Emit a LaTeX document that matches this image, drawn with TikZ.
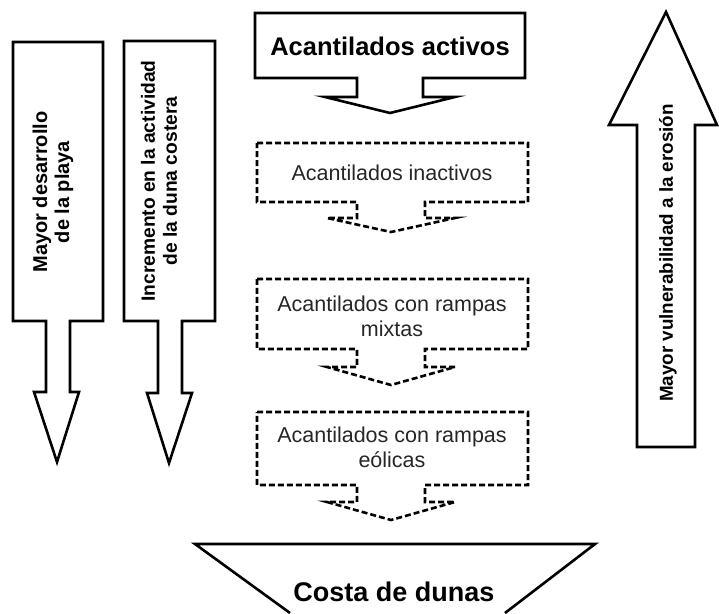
\documentclass[tikz,border=0pt]{standalone}
\usepackage{fontspec}
\setmainfont{Liberation Sans}

\tikzset{
	outline/.style={draw, line width=2.6pt, line join=miter},
	dashline/.style={draw, line width=2.6pt, dash pattern=on 6pt off 3pt},
	lbl/.style={align=center, inner sep=0pt, text=black!85, font=\fontsize{21.5}{25}\selectfont},
	blbl/.style={align=center, inner sep=0pt, font=\fontsize{20}{22}\selectfont\bfseries},
}

\begin{document}
\begin{tikzpicture}[x=1pt,y=-1pt]
	\useasboundingbox (0,0) rectangle (719,613);
	
	% cliff states
	\draw[outline] (255,13) -- (525,13) -- (525,78) -- (423,78) -- (423,97) -- (455,97) -- (390,113) -- (325,97) -- (357,97) -- (357,78) -- (255,78) -- cycle;
	\node[blbl, font=\fontsize{25.5}{28}\selectfont\bfseries] (activos) at (390,46) {Acantilados activos};
	
	\draw[dashline] (257,143) -- (528,143) -- (528,202) -- (425,202) -- (425,218) -- (455,218) -- (391,232) -- (327,218) -- (357,218) -- (357,202) -- (257,202) -- cycle;
	\node[lbl] (inactivos) at (392,173) {Acantilados inactivos};
	
	\draw[dashline] (257,279) -- (528,279) -- (528,349) -- (425,349) -- (425,367) -- (455,367) -- (391,385) -- (327,367) -- (357,367) -- (357,349) -- (257,349) -- cycle;
	\node[lbl] (mixtas) at (392,316) {Acantilados con rampas\\mixtas};
	
	\draw[dashline] (257,412) -- (528,412) -- (528,485) -- (425,485) -- (425,502) -- (455,502) -- (391,520) -- (327,502) -- (357,502) -- (357,485) -- (257,485) -- cycle;
	\node[lbl] (eolicas) at (392,447) {Acantilados con rampas\\eólicas};
	
	% dunes
	\draw[outline] (290,613) -- (195,544) -- (595,544) -- (505,613);
	\node[blbl, font=\fontsize{27}{30}\selectfont\bfseries] (dunas) at (394,592) {Costa de dunas};
	
	% side arrows
	\draw[outline] (13,42) -- (103,42) -- (103,321) -- (70,321) -- (70,392) -- (79,392) -- (57,462) -- (34,392) -- (46,392) -- (46,321) -- (13,321) -- cycle;
	\node[blbl, rotate=90] (playa) at (53,192) {Mayor desarrollo\\de la playa};
	
	\draw[outline] (124,41) -- (215,41) -- (215,321) -- (182,321) -- (182,393) -- (192,393) -- (169,463) -- (147,393) -- (158,393) -- (158,321) -- (124,321) -- cycle;
	\node[blbl, rotate=90, font=\fontsize{19.2}{22}\selectfont\bfseries] (duna) at (159,181) {Incremento en la actividad\\de la duna costera};
	
	\draw[outline] (637,447) -- (637,125) -- (609,125) -- (666,12) -- (717,125) -- (695,125) -- (695,447) -- cycle;
	\node[blbl, rotate=90, font=\fontsize{18.8}{22}\selectfont\bfseries] (erosion) at (668,253) {Mayor vulnerabilidad a la erosión};
	
\end{tikzpicture}
\end{document}
